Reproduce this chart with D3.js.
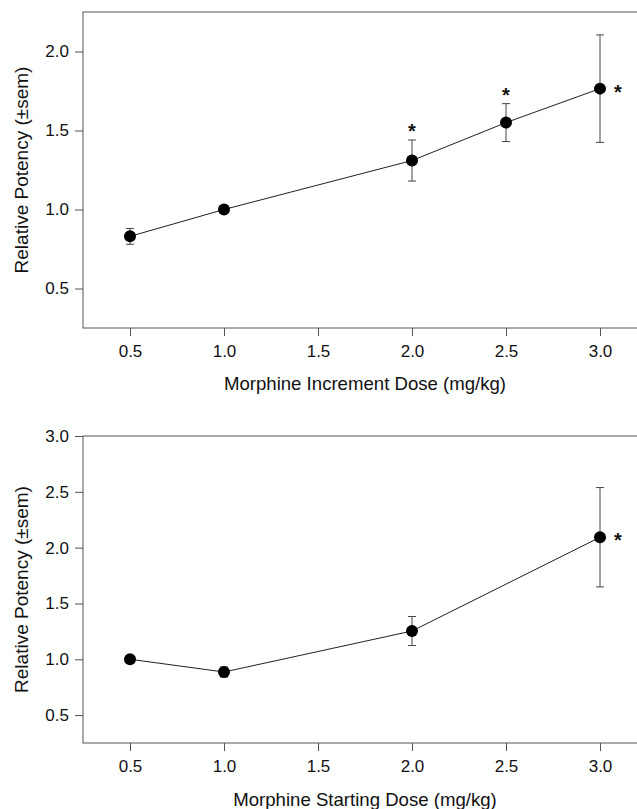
<!DOCTYPE html>
<html lang="en">
  <head>
    <meta charset="UTF-8" />
    <title>Relative Potency</title>
    <script src="https://cdn.jsdelivr.net/npm/d3@7"></script>
  </head>
  <body>
    <svg></svg>
    <style>
      body {
        margin: 0;
        background: #fff;
      }
      svg {
        width: 637px;
        height: 809px;
        display: block;
      }
      text {
        font-family: "Liberation Sans", Arial, sans-serif;
        fill: #111;
      }
    </style>
    <script>
      // top panel: increment dose
      const incDose = [0.5, 1.0, 2.0, 2.5, 3.0];
      const incPotency = [0.83, 1.0, 1.31, 1.55, 1.765];
      const incSem = [0.05, 0, 0.13, 0.12, 0.34];
      const incSig = [false, false, true, true, true];

      // bottom panel: starting dose
      const startDose = [0.5, 1.0, 2.0, 3.0];
      const startPotency = [1.0, 0.886, 1.253, 2.093];
      const startSem = [0, 0.045, 0.13, 0.445];
      const startSig = [false, false, false, true];

      const xTicks = [0.5, 1.0, 1.5, 2.0, 2.5, 3.0];
      const incYTicks = [0.5, 1.0, 1.5, 2.0];
      const startYTicks = [0.5, 1.0, 1.5, 2.0, 2.5, 3.0];

      const svg = d3.select("svg");
      const left = 83, right = 647;

      function panel(cfg) {
        const x = d3.scaleLinear().domain([0.25, 3.25]).range([left, right]);
        const y = d3.scaleLinear().domain(cfg.yDomain).range([cfg.bottom, cfg.top]);
        const g = svg.append("g");

        // frame (right edge falls outside the picture)
        g.append("rect")
          .attr("x", left).attr("y", cfg.top)
          .attr("width", right - left).attr("height", cfg.bottom - cfg.top)
          .attr("fill", "none").attr("stroke", "#555").attr("stroke-width", 1);

        const xAxis = g.append("g")
          .attr("transform", `translate(0,${cfg.bottom})`)
          .call(d3.axisBottom(x).tickValues(xTicks).tickFormat(d3.format(".1f"))
            .tickSize(8).tickSizeOuter(0).tickPadding(8.5));
        const yAxis = g.append("g")
          .attr("transform", `translate(${left},0)`)
          .call(d3.axisLeft(y).tickValues(cfg.yTicks).tickFormat(d3.format(".1f"))
            .tickSize(8).tickSizeOuter(0).tickPadding(6));
        [xAxis, yAxis].forEach(a => {
          a.select(".domain").remove();
          a.selectAll("line").attr("stroke", "#555");
          a.selectAll("text").style("font-size", "17px")
            .style("font-family", '"Liberation Sans", Arial, sans-serif').attr("fill", "#111");
        });

        const pts = cfg.dose.map((d, i) => ({ d, v: cfg.potency[i], s: cfg.sem[i], sig: cfg.sig[i], last: i === cfg.dose.length - 1 }));

        // error bars
        const eb = g.selectAll(".eb").data(pts.filter(p => p.s > 0)).enter().append("g")
          .attr("stroke", "#444").attr("stroke-width", 1);
        eb.append("line")
          .attr("x1", p => x(p.d)).attr("x2", p => x(p.d))
          .attr("y1", p => y(p.v + p.s)).attr("y2", p => y(p.v - p.s));
        eb.append("line")
          .attr("x1", p => x(p.d) - 4).attr("x2", p => x(p.d) + 4)
          .attr("y1", p => y(p.v + p.s)).attr("y2", p => y(p.v + p.s));
        eb.append("line")
          .attr("x1", p => x(p.d) - 4).attr("x2", p => x(p.d) + 4)
          .attr("y1", p => y(p.v - p.s)).attr("y2", p => y(p.v - p.s));

        // connecting line
        g.append("path").datum(pts)
          .attr("fill", "none").attr("stroke", "#222").attr("stroke-width", 1)
          .attr("d", d3.line().x(p => x(p.d)).y(p => y(p.v)));

        g.selectAll(".pt").data(pts).enter().append("circle")
          .attr("cx", p => x(p.d)).attr("cy", p => y(p.v)).attr("r", 6)
          .attr("fill", "#000");

        // significance stars: above the bar, or to the right for the last point
        g.selectAll(".star").data(pts.filter(p => p.sig)).enter().append("text")
          .attr("x", p => p.last ? x(p.d) + 18 : x(p.d))
          .attr("y", p => (p.last ? y(p.v) : y(p.v + p.s) - 12) + 10)
          .attr("text-anchor", "middle")
          .style("font-size", "20px").style("font-weight", "bold")
          .text("*");

        g.append("text")
          .attr("x", (left + right) / 2).attr("y", cfg.xLabelY)
          .attr("text-anchor", "middle").style("font-size", "18.6px")
          .text(cfg.xLabel);
        g.append("text")
          .attr("transform", `translate(28,${(cfg.top + cfg.bottom) / 2}) rotate(-90)`)
          .attr("text-anchor", "middle").style("font-size", "19px")
          .text("Relative Potency (\u00b1sem)");
      }

      panel({
        top: 12, bottom: 328, yDomain: [0.25, 2.25], yTicks: incYTicks,
        dose: incDose, potency: incPotency, sem: incSem, sig: incSig,
        xLabel: "Morphine Increment Dose (mg/kg)", xLabelY: 390
      });
      panel({
        top: 436, bottom: 743, yDomain: [0.25, 3.0], yTicks: startYTicks,
        dose: startDose, potency: startPotency, sem: startSem, sig: startSig,
        xLabel: "Morphine Starting Dose (mg/kg)", xLabelY: 806
      });
    </script>
  </body>
</html>
